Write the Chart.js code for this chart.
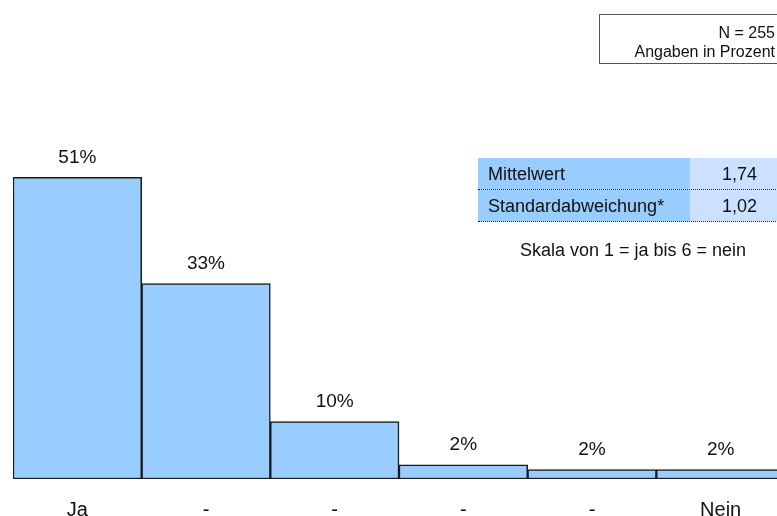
<!DOCTYPE html>
<html>
<head>
<meta charset="utf-8">
<script src="https://cdn.jsdelivr.net/npm/chart.js@4"></script>
<style>
  html, body { margin:0; padding:0; width:777px; height:516px; overflow:hidden; background:#fff; }
  body { position:relative; font-family:"Liberation Sans", Arial, sans-serif; color:#111; }
  #chart { position:absolute; left:0; top:0; }
  .nbox { position:absolute; left:599px; top:14px; width:200px; height:50px; border:1px solid #555; box-sizing:border-box; font-size:16px; }
  .nbox div { position:absolute; right:23px; white-space:nowrap; line-height:19px; }
  .stats { position:absolute; left:478px; top:158px; font-size:18px; }
  .stats .row { display:flex; height:31px; border-bottom:1.5px dotted #222; width:320px; }
  .stats .lab { width:212px; background:#99ccff; padding-left:10px; box-sizing:border-box; line-height:32px; }
  .stats .val { width:99px; background:#cce0ff; text-align:center; line-height:32px; }
  .note { position:absolute; left:633px; top:240px; transform:translateX(-50%); font-size:18px; white-space:nowrap; }
</style>
</head>
<body>
<canvas id="chart" width="785" height="516"></canvas>
<div class="nbox">
  <div id="nText" style="top:8px"></div>
  <div id="unitText" style="top:27px"></div>
</div>
<div class="stats" id="stats"></div>
<div class="note" id="note"></div>
<script>
const $ = (id) => document.getElementById(id);

// Antwortskala 1 = ja ... 6 = nein
const categories = ['Ja', '-', '-', '-', '-', 'Nein'];
const percent = [51.4, 33.3, 9.8, 2.4, 1.6, 1.6];
const percentLabels = ['51%', '33%', '10%', '2%', '2%', '2%'];
const statNames = ['Mittelwert', 'Standardabweichung*'];
const statValues = ['1,74', '1,02'];
const sampleText = 'N = 255';
const unitText = 'Angaben in Prozent';
const scaleNote = 'Skala von 1 = ja bis 6 = nein';

const FONT = '"Liberation Sans", Arial, sans-serif';

$('nText').textContent = sampleText;
$('unitText').textContent = unitText;
$('note').textContent = scaleNote;
$('stats').innerHTML = statNames.map((n, i) =>
  `<div class="row"><div class="lab">${n}</div><div class="val">${statValues[i]}</div></div>`).join('');

// Prozentwerte über den Balken
const valueLabels = {
  id: 'valueLabels',
  afterDatasetsDraw(chart) {
    const ctx = chart.ctx;
    const meta = chart.getDatasetMeta(0);
    ctx.save();
    ctx.font = '19px ' + FONT;
    ctx.fillStyle = '#111';
    ctx.textAlign = 'center';
    ctx.textBaseline = 'alphabetic';
    meta.data.forEach((bar, i) => ctx.fillText(percentLabels[i], bar.x, bar.y - 14.5));
    ctx.restore();
  }
};

new Chart($('chart'), {
  type: 'bar',
  data: {
    labels: categories,
    datasets: [{
      data: percent,
      backgroundColor: '#99ccff',
      borderColor: '#1a1a1a',
      borderWidth: 1.5,
      borderSkipped: false,
      categoryPercentage: 1,
      barPercentage: 1
    }]
  },
  options: {
    responsive: false,
    animation: false,
    layout: { padding: { left: 13, right: 0, top: 127, bottom: -25 } },
    plugins: { legend: { display: false }, tooltip: { enabled: false } },
    scales: {
      x: {
        grid: { display: false, drawTicks: false },
        border: { display: false },
        ticks: { color: '#111', padding: 21, font: { family: FONT, size: 20, lineHeight: 1 } }
      },
      y: { display: false, min: 0, max: 60 }
    }
  },
  plugins: [valueLabels]
});
</script>
</body>
</html>
